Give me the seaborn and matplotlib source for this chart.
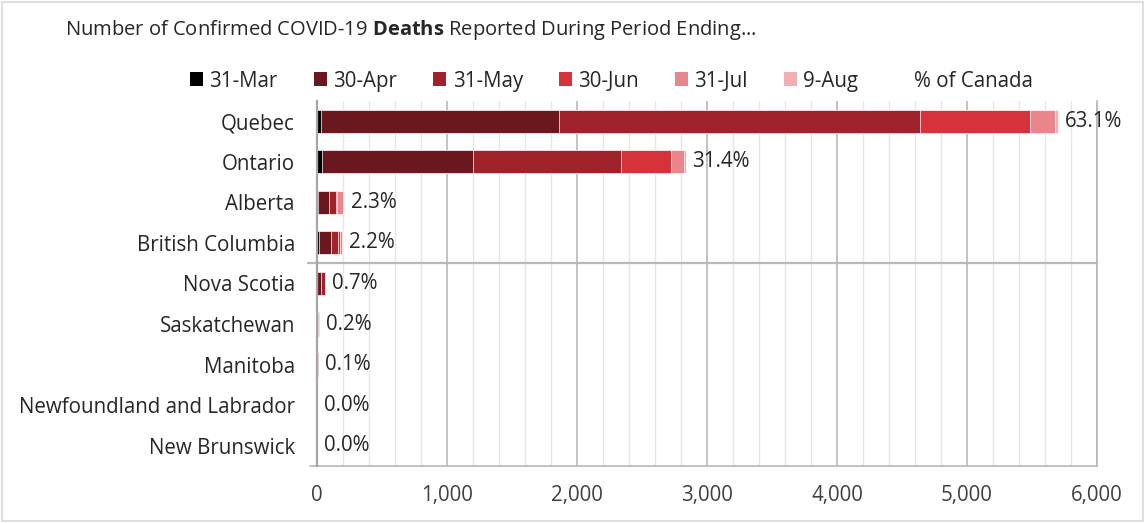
import numpy as np
import pandas as pd
import matplotlib
matplotlib.use("Agg")
import matplotlib.pyplot as plt
import matplotlib.transforms as mtransforms
from matplotlib.patches import Patch, Rectangle
from matplotlib.lines import Line2D
from matplotlib.ticker import MultipleLocator, FuncFormatter
import seaborn as sns

# ---- data (deaths reported during each period) ----
provinces = ["Quebec", "Ontario", "Alberta", "British Columbia", "Nova Scotia",
             "Saskatchewan", "Manitoba", "Newfoundland and Labrador", "New Brunswick"]
periods = ["31-Mar", "30-Apr", "31-May", "30-Jun", "31-Jul", "9-Aug"]
deaths_mar = [33, 37, 8, 17, 0, 2, 1, 1, 0]
deaths_apr = [1826, 1163, 84, 94, 28, 4, 6, 2, 0]
deaths_may = [2782, 1138, 51, 53, 32, 0, 0, 0, 0]
deaths_jun = [844, 385, 12, 9, 3, 7, 0, 0, 2]
deaths_jul = [192, 100, 41, 22, 1, 2, 1, 0, 0]
deaths_aug = [20, 12, 13, 1, 0, 0, 1, 0, 0]
pct_canada = ["63.1%", "31.4%", "2.3%", "2.2%", "0.7%", "0.2%", "0.1%", "0.0%", "0.0%"]
colors = ["#000000", "#6A171D", "#A0222B", "#D5323B", "#E8868B", "#F0B0B3"]

sns.set_theme(style="white")
plt.rcParams["font.family"] = ["Open Sans", "DejaVu Sans"]
plt.rcParams["mathtext.fontset"] = "custom"
plt.rcParams["mathtext.rm"] = "Open Sans"
plt.rcParams["mathtext.bf"] = "Open Sans:bold"
plt.rcParams["text.color"] = "#262626"

FS = 14.8

df = pd.DataFrame({"province": provinces})
series = [deaths_mar, deaths_apr, deaths_may, deaths_jun, deaths_jul, deaths_aug]
cum = np.cumsum(np.array(series), axis=0)
for name, col in zip(periods, cum):
    df[name] = col

fig = plt.figure(figsize=(11.45, 5.23), dpi=100)
ax = fig.add_axes([0.2769, 0.109, 0.958 - 0.2769, 0.698])

# stacked bars: draw cumulative totals from the last period back to the first
for name, c in reversed(list(zip(periods, colors))):
    sns.barplot(data=df, y="province", x=name, color=c, saturation=1,
                orient="h", width=0.57, errorbar=None,
                edgecolor="white", linewidth=0.5, ax=ax)

# % of Canada labels at bar ends
for i, (tot, lab) in enumerate(zip(df[periods[-1]], pct_canada)):
    ax.annotate(lab, xy=(tot, i), xytext=(5, 0), textcoords="offset points",
                va="center", ha="left", fontsize=FS, color="#262626")

ax.set_xlim(0, 6000)
ax.set_ylim(8.5, -0.5)
ax.xaxis.set_major_locator(MultipleLocator(1000))
ax.xaxis.set_minor_locator(MultipleLocator(200))
ax.xaxis.set_major_formatter(FuncFormatter(lambda v, p: f"{v:,.0f}"))
ax.set_axisbelow(True)
ax.grid(which="major", axis="x", color="#B8B8B8", lw=1.2)
ax.grid(which="minor", axis="x", color="#E6E6E6", lw=1.0)
ax.grid(axis="y", visible=False)
ax.tick_params(axis="both", which="both", length=0)
ax.tick_params(axis="x", pad=14, labelsize=FS, labelcolor="#404040")
ax.tick_params(axis="y", pad=16, labelsize=FS, labelcolor="#262626")
ax.set_xlabel("")
ax.set_ylabel("")
for s in ["top", "bottom"]:
    ax.spines[s].set_visible(False)
ax.spines["left"].set_color("#A6A6A6")
ax.spines["left"].set_linewidth(1.6)
ax.spines["right"].set_color("#B8B8B8")
ax.spines["right"].set_linewidth(1.2)

# bottom line and separator between British Columbia and Nova Scotia
trans = mtransforms.blended_transform_factory(ax.transAxes, ax.transData)
ax.add_line(Line2D([-0.009, 1], [8.5, 8.5], transform=trans, color="#B8B8B8",
                   lw=1.2, clip_on=False))
ax.add_line(Line2D([-0.012, 1], [3.5, 3.5], transform=trans, color="#B8B8B8",
                   lw=1.6, clip_on=False))

# title with bold word
fig.text(0.057, 0.943, r"Number of Confirmed COVID-19 $\mathbf{Deaths}$ Reported During Period Ending...",
         ha="left", va="center", fontsize=14.5, color="#262626")

# legend
handles = [Patch(facecolor=c, edgecolor="none") for c in colors]
handles.append(Patch(facecolor="none", edgecolor="none"))
labels = periods + ["% of Canada"]
fig.legend(handles, labels, loc="center", bbox_to_anchor=(0.534, 0.845), ncol=7,
           frameon=False, fontsize=FS, handlelength=0.65, handleheight=0.65,
           handletextpad=0.3, columnspacing=1.75)

# outer border
fig.patches.append(Rectangle((0.002, 0.004), 0.996, 0.992, transform=fig.transFigure,
                             fill=False, ec="#D9D9D9", lw=1.2))

fig.savefig("out.png", dpi=100)
